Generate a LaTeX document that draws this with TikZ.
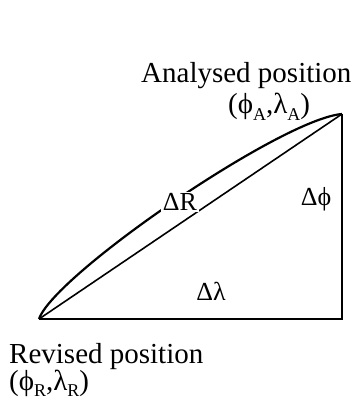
\documentclass[tikz,border=0pt]{standalone}
\usepackage{fontspec}
\setmainfont{Liberation Serif}
\usetikzlibrary{positioning}
\newcommand{\idx}[1]{\raisebox{-0.22em}{\fontsize{18}{18}\selectfont #1}}

\begin{document}
\begin{tikzpicture}[
  x=1pt, y=-1pt,
  legline/.style={black, line width=1.6pt},
  arcline/.style={black, line width=2.2pt},
  caption/.style={font=\fontsize{29}{31}\selectfont, inner sep=0pt, anchor=base west},
  delta/.style={font=\fontsize{26}{28}\selectfont, inner sep=1.5pt}
]
  \useasboundingbox (0,0) rectangle (361,403);

  % ── Corners of the triangle ──
  \coordinate (rev) at (39,319);
  \coordinate (ana) at (342,114);
  \coordinate (cor) at (342,319);

  % ── Triangle legs and arc ──
  \draw[legline] (rev) -- (ana);
  \draw[legline] (rev) -- (cor) -- (ana);
  \draw[arcline] (rev) .. controls (54,275) and (281,119) .. (ana);

  % ── Differences ──
  \node[delta, fill=white] (dR) at (180,202) {ΔR};
  \node[delta] (dphi) at (316,199) {Δϕ};
  \node[delta] (dlam) at (211,291) {Δλ};

  % ── Positions ──
  \node[caption] (anatitle) at (141,83) {Analysed position};
  \node[caption] (anacoord) at (228,114) {(ϕ\idx{A},λ\idx{A})};
  \node[caption] (revtitle) at (9,363) {Revised position};
  \node[caption] (revcoord) at (9,390) {(ϕ\idx{R},λ\idx{R})};
\end{tikzpicture}
\end{document}
